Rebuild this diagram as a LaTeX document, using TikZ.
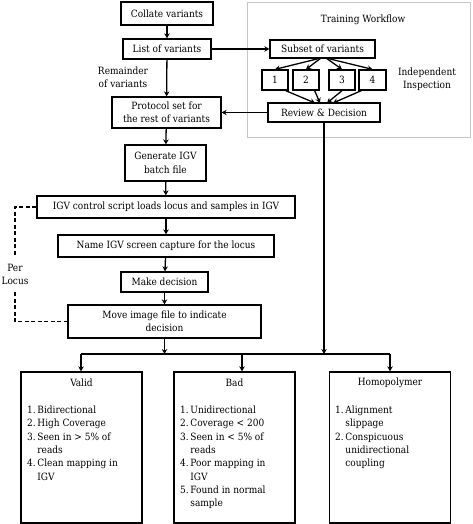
\documentclass[tikz,border=0pt]{standalone}
\usepackage{fontspec}
\setmainfont{DejaVu Serif Condensed}
\usetikzlibrary{arrows.meta}
\begin{document}
\begin{tikzpicture}[x=1pt,y=-1pt,
  every node/.style={font=\fontsize{10}{13.3}\selectfont},
  box/.style={draw=black,line width=1.3pt,minimum width=#1,inner sep=0pt,align=center},
  conn/.style={line width=1.3pt,-{Stealth[length=5pt,width=5.5pt]}},
  plain/.style={line width=1.3pt},
  bigbox/.style={draw=black,line width=1.3pt,minimum width=121pt,minimum height=151pt,inner sep=0pt},
  txt/.style={inner sep=0pt,align=center}]
\useasboundingbox (0,0) rectangle (472,524);
% training workflow frame
\draw[draw=black!22,line width=0.9pt] (247,2) rectangle (470,137);
\node[txt] (tw) at (363,20) {Training Workflow};
% main column
\node[box=92pt,minimum height=23pt] (collate) at (167,13.5) {Collate variants};
\node[box=88pt,minimum height=20pt] (list) at (167,49) {List of variants};
\node[box=105pt,minimum height=18pt] (subset) at (322.5,49) {Subset of variants};
\node[box=26pt,minimum height=20pt] (b1) at (275,80) {1};
\node[box=26pt,minimum height=20pt] (b2) at (306,80) {2};
\node[box=26pt,minimum height=20pt] (b3) at (342,80) {3};
\node[box=27pt,minimum height=20pt] (b4) at (372.5,80) {4};
\node[txt] (indep) at (427,79) {Independent\\Inspection};
\node[box=112pt,minimum height=19pt] (review) at (324,112.5) {Review \& Decision};
\node[box=109pt,minimum height=31pt] (protocol) at (166.5,112.5) {Protocol set for\\the rest of variants};
\node[txt] (remainder) at (123,77) {Remainder\\of variants};
\node[box=81pt,minimum height=36pt] (gen) at (165.5,163) {Generate IGV\\batch file};
\node[box=258pt,minimum height=22pt] (igv) at (166,207) {IGV control script loads locus and samples in IGV};
\node[box=216pt,minimum height=22pt] (name) at (166,246) {Name IGV screen capture for the locus};
\node[box=87pt,minimum height=20pt] (make) at (164.5,282) {Make decision};
\node[box=193pt,minimum height=33pt] (move) at (164.5,321.5) {Move image file to indicate\\decision};
\node[txt,minimum height=35pt] (perlocus) at (15,274.5) {Per\\Locus};
% connectors main
\draw[conn] (collate) -- (list);
\draw[conn] (list) -- (subset);
\draw[conn] (list) -- (protocol);
\draw[conn] (review) -- (protocol);
\draw[conn] (protocol) -- (gen);
\draw[conn] (gen) -- (igv);
\draw[conn] (igv) -- (name);
\draw[conn] (name) -- (make);
\draw[conn] (make) -- (move);
% fan out / in
\coordinate (sA) at (321,58);
\coordinate (sB) at (326,58);
\draw[conn] (sA) -- (b1.north);
\draw[conn] (sA) -- (b2.north);
\draw[conn] (sB) -- (b3.north);
\draw[conn] (sB) -- (b4.north);
\draw[conn] (b1.south east) ++(-3,0) -- (315,103);
\draw[conn] (b2.south east) ++(-5,0) -- (320,103);
\draw[conn] (b3.south) -- (327,103);
\draw[conn] (b4.south west) ++(3,0) -- (333,103);
% dashed loop
\draw[line width=1.1pt,dash pattern=on 4pt off 2.5pt] (igv.west) -| (perlocus.north);
\draw[line width=1.1pt,dash pattern=on 4pt off 2.5pt] (perlocus.south) |- (move.west);
% bottom boxes
\node[bigbox] (valid) at (81.5,447.5) {};
\node[bigbox] (bad) at (234.5,447.5) {};
\node[bigbox] (homo) at (390,447.5) {};
% bar
\coordinate (barL) at (81,354);
\coordinate (barR) at (390,354);
\coordinate (barM) at (242,354);
\draw[plain] (barL) -- (barR);
\draw[conn] (move.south) -- (move.south |- barL);
\draw[conn] (review.south) -- (review.south |- barL);
\draw[conn] (barL) -- (valid.north -| barL);
\draw[conn] (barM) -- (bad.north -| barM);
\draw[conn] (barR) -- (homo.north -| barR);
% titles
\node[txt] (vt) at (81.5,383) {Valid};
\node[txt] (bt) at (234.5,383) {Bad};
\node[txt] (ht) at (390,383) {Homopolymer};
% lists
\node[txt,anchor=north west,align=left] (vl) at (27,404) {\begin{tabular}{@{}l@{\,}l@{}}
1. & Bidirectional\\
2. & High Coverage\\
3. & Seen in > 5\% of\\
   & reads\\
4. & Clean mapping in\\
   & IGV
\end{tabular}};
\node[txt,anchor=north west,align=left] (bl) at (180,404) {\begin{tabular}{@{}l@{\,}l@{}}
1. & Unidirectional\\
2. & Coverage < 200\\
3. & Seen in < 5\% of\\
   & reads\\
4. & Poor mapping in\\
   & IGV\\
5. & Found in normal\\
   & sample
\end{tabular}};
\node[txt,anchor=north west,align=left] (hl) at (335,404) {\begin{tabular}{@{}l@{\,}l@{}}
1. & Alignment\\
   & slippage\\
2. & Conspicuous\\
   & unidirectional\\
   & coupling
\end{tabular}};
\end{tikzpicture}
\end{document}
